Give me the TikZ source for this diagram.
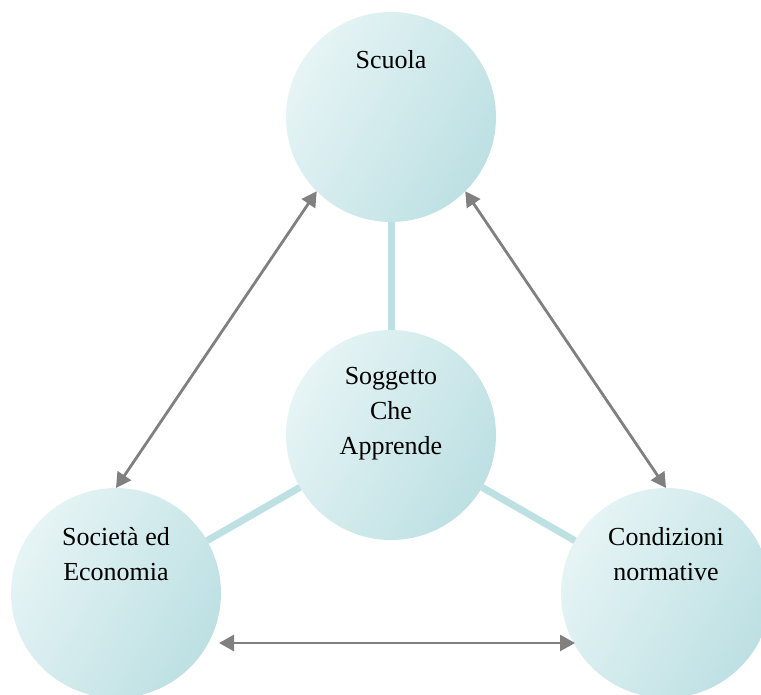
\documentclass[tikz,border=0pt]{standalone}
\usepackage{fontspec}
\setmainfont{Liberation Serif}
\usetikzlibrary{arrows.meta}
\definecolor{bubbleLight}{HTML}{E6F4F5}
\definecolor{bubbleDark}{HTML}{BDE0E3}
\definecolor{linkCyan}{HTML}{BDE0E3}
\definecolor{arrowGray}{HTML}{808080}
\tikzset{
  bubble/.style={circle, minimum size=210pt, inner sep=0pt, outer sep=0pt,
    top color=bubbleLight, bottom color=bubbleDark, shading angle=60},
  label text/.style={align=center, font=\fontsize{26}{35}\selectfont},
  link/.style={line width=7pt, linkCyan},
  twoway/.style={{Triangle[length=15pt,width=16pt]}-{Triangle[length=15pt,width=16pt]},
    line width=2.8pt, arrowGray}
}
\begin{document}
\begin{tikzpicture}[x=1pt,y=-1pt]
\useasboundingbox (0,0) rectangle (761,695);
\clip (0,0) rectangle (761,695);

\node[bubble] (scuola) at (391,117) {};
\node[bubble] (soggetto) at (391,435) {};
\node[bubble] (societa) at (116,593) {};
\node[bubble] (condizioni) at (666,593) {};

\node[label text] (tScuola) at (391,60) {Scuola};
\node[label text] (tSoggetto) at (391,414) {Soggetto\\Che\\Apprende};
\node[label text] (tSocieta) at (116,554) {Società ed\\Economia};
\node[label text] (tCondizioni) at (666,554) {Condizioni\\normative};

\draw[link] (soggetto) -- (scuola);
\draw[link] (soggetto) -- (societa);
\draw[link] (soggetto) -- (condizioni);

\coordinate (ecoEnd) at ([shift={(103,50)}]societa.center);
\coordinate (normEnd) at ([shift={(-91,50)}]condizioni.center);

\draw[twoway] (scuola.225) -- (societa.north);
\draw[twoway] (scuola.-45) -- (condizioni.north);
\draw[twoway] (ecoEnd) -- (normEnd);
\end{tikzpicture}
\end{document}
